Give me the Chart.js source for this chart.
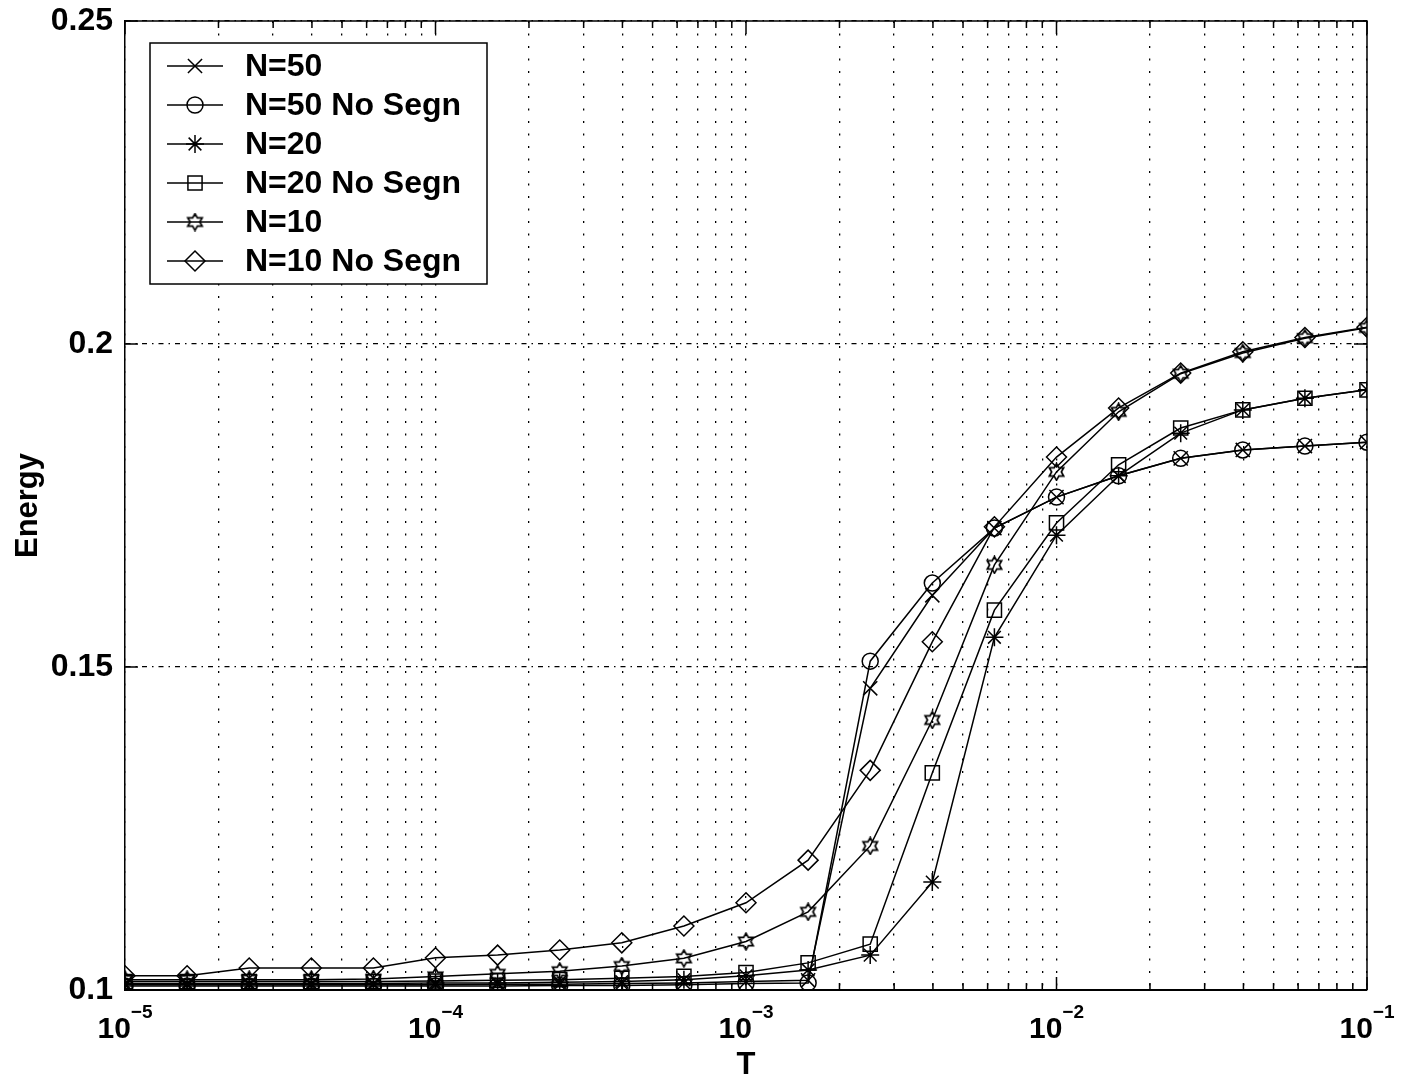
<!DOCTYPE html>
<html><head><meta charset="utf-8">
<script src="https://cdn.jsdelivr.net/npm/chart.js@4"></script>
<style>html,body{margin:0;padding:0;background:#fff}canvas{display:block}</style>
</head><body>
<canvas id="c" width="1403" height="1078"></canvas>
<script>
// ---- data ----
const T = [1.0e-5, 1.585e-5, 2.512e-5, 3.981e-5, 6.310e-5,
           1.0e-4, 1.585e-4, 2.512e-4, 3.981e-4, 6.310e-4,
           1.0e-3, 1.585e-3, 2.512e-3, 3.981e-3, 6.310e-3,
           1.0e-2, 1.585e-2, 2.512e-2, 3.981e-2, 6.310e-2, 1.0e-1];
const seriesLabels = ['N=50', 'N=50 No Segn', 'N=20', 'N=20 No Segn', 'N=10', 'N=10 No Segn'];
const n50       = [0.1008,0.1008,0.1008,0.1008,0.1008,0.1008,0.1009,0.1009,0.1010,0.1011,0.1013,0.1015,0.1467,0.1611,0.1715,0.1763,0.1796,0.1823,0.1836,0.1842,0.1848];
const n50NoSegn = [0.1006,0.1006,0.1006,0.1006,0.1006,0.1006,0.1006,0.1007,0.1007,0.1008,0.1010,0.1011,0.1509,0.1630,0.1715,0.1763,0.1796,0.1823,0.1836,0.1842,0.1848];
const n20       = [0.1010,0.1010,0.1010,0.1010,0.1010,0.1011,0.1011,0.1012,0.1013,0.1016,0.1022,0.1031,0.1054,0.1167,0.1546,0.1704,0.1796,0.1862,0.1898,0.1916,0.1929];
const n20NoSegn = [0.1013,0.1013,0.1013,0.1013,0.1013,0.1014,0.1015,0.1016,0.1018,0.1021,0.1027,0.1042,0.1071,0.1336,0.1588,0.1723,0.1813,0.1870,0.1898,0.1916,0.1929];
const n10       = [0.1016,0.1016,0.1016,0.1016,0.1017,0.1021,0.1025,0.1029,0.1037,0.1049,0.1075,0.1121,0.1223,0.1418,0.1658,0.1802,0.1895,0.1954,0.1986,0.2009,0.2025];
const n10NoSegn = [0.1022,0.1022,0.1034,0.1034,0.1034,0.1050,0.1054,0.1062,0.1073,0.1099,0.1135,0.1201,0.1340,0.1539,0.1717,0.1825,0.1901,0.1955,0.1988,0.2010,0.2026];
const xMajorTicks = [1e-5, 1e-4, 1e-3, 1e-2, 1e-1];
const xTickBase = '10';
const xTickExps = ['\u22125', '\u22124', '\u22123', '\u22122', '\u22121'];
const yTicks = [0.1, 0.15, 0.2, 0.25];
const xTitle = 'T';
const yTitle = 'Energy';

// ---- hexagram marker ----
function hexagram(size) {
  const c = document.createElement('canvas');
  c.width = size; c.height = size;
  const g = c.getContext('2d');
  const cx = size / 2, cy = size / 2, R = size / 2 - 1.2, r = R / Math.sqrt(3);
  g.strokeStyle = '#000'; g.lineWidth = 1.7;
  g.beginPath();
  for (let i = 0; i < 12; i++) {
    const a = -Math.PI / 2 + i * Math.PI / 6;
    const rr = i % 2 === 0 ? R : r;
    const px = cx + rr * Math.cos(a), py = cy + rr * Math.sin(a);
    if (i === 0) g.moveTo(px, py); else g.lineTo(px, py);
  }
  g.closePath(); g.stroke();
  return c;
}
const hexImg = hexagram(19);

const FONT = '"Liberation Sans", Arial, Helvetica, sans-serif';
Chart.defaults.color = '#000';
Chart.defaults.font.family = FONT;

const seriesData = [n50, n50NoSegn, n20, n20NoSegn, n10, n10NoSegn];
const styles = [
  {pointStyle: 'crossRot', radius: 10},
  {pointStyle: 'circle', radius: 8},
  {pointStyle: 'star', radius: 9},
  {pointStyle: 'rect', radius: 10},
  {pointStyle: hexImg, radius: 9},
  {pointStyle: 'rectRot', radius: 10}
];

const datasets = seriesData.map((arr, i) => ({
  label: seriesLabels[i],
  data: T.map((t, j) => ({x: t, y: arr[j]})),
  borderColor: '#000',
  borderWidth: 1.5,
  pointStyle: styles[i].pointStyle,
  pointRadius: styles[i].radius,
  pointBorderColor: '#000',
  pointBackgroundColor: 'rgba(0,0,0,0)',
  pointBorderWidth: 1.5,
  tension: 0,
  fill: false
}));

const framePlugin = {
  id: 'frame',
  afterDraw(chart) {
    const ctx = chart.ctx;
    const a = chart.chartArea;
    const xs = chart.scales.x, ys = chart.scales.y;
    ctx.save();
    ctx.strokeStyle = '#000';
    ctx.lineWidth = 1.5;
    ctx.setLineDash([]);
    // top/right border
    ctx.beginPath();
    ctx.moveTo(a.left, a.top); ctx.lineTo(a.right, a.top); ctx.lineTo(a.right, a.bottom);
    ctx.stroke();
    // x ticks inside (top & bottom)
    ctx.beginPath();
    xs.ticks.forEach(t => {
      const px = xs.getPixelForValue(t.value);
      const major = xMajorTicks.some(m => Math.abs(Math.log10(m) - Math.log10(t.value)) < 1e-6);
      const L = major ? 13 : 7;
      ctx.moveTo(px, a.bottom); ctx.lineTo(px, a.bottom - L);
      ctx.moveTo(px, a.top); ctx.lineTo(px, a.top + L);
    });
    // y ticks inside (left & right)
    yTicks.forEach(v => {
      const py = ys.getPixelForValue(v);
      ctx.moveTo(a.left, py); ctx.lineTo(a.left + 13, py);
      ctx.moveTo(a.right, py); ctx.lineTo(a.right - 13, py);
    });
    ctx.stroke();
    // x tick labels with superscripts
    ctx.fillStyle = '#000';
    ctx.textBaseline = 'alphabetic';
    ctx.textAlign = 'left';
    xMajorTicks.forEach((m, i) => {
      const px = xs.getPixelForValue(m);
      ctx.font = 'bold 30px ' + FONT;
      const w1 = ctx.measureText(xTickBase).width;
      ctx.font = 'bold 19px ' + FONT;
      const w2 = ctx.measureText(xTickExps[i]).width;
      const x0 = px - (w1 + w2) / 2;
      ctx.font = 'bold 30px ' + FONT;
      ctx.fillText(xTickBase, x0, a.bottom + 48);
      ctx.font = 'bold 19px ' + FONT;
      ctx.fillText(xTickExps[i], x0 + w1, a.bottom + 28);
    });
    // legend
    const bx = 150, by = 43, bw = 337, bh = 241;
    ctx.fillStyle = '#fff';
    ctx.fillRect(bx, by, bw, bh);
    ctx.lineWidth = 1.5;
    ctx.strokeRect(bx, by, bw, bh);
    chart.data.datasets.forEach((ds, i) => {
      const cy = 66 + i * 39;
      ctx.lineWidth = 1.5;
      ctx.strokeStyle = '#000';
      ctx.beginPath(); ctx.moveTo(167, cy); ctx.lineTo(223, cy); ctx.stroke();
      ctx.fillStyle = 'rgba(0,0,0,0)';
      Chart.helpers.drawPoint(ctx, {pointStyle: ds.pointStyle, radius: ds.pointRadius, borderWidth: 1.5, rotation: 0}, 195, cy);
      ctx.fillStyle = '#000';
      ctx.font = 'bold 32px ' + FONT;
      ctx.textBaseline = 'middle';
      ctx.fillText(ds.label, 245, cy + 1);
    });
    ctx.restore();
  }
};

new Chart(document.getElementById('c'), {
  type: 'line',
  data: {datasets},
  options: {
    responsive: false,
    animation: false,
    events: [],
    layout: {padding: {top: 21, right: 36, left: 0, bottom: 0}},
    plugins: {legend: {display: false}, tooltip: {enabled: false}},
    scales: {
      x: {
        type: 'logarithmic',
        min: 1e-5, max: 1e-1,
        afterBuildTicks: (s) => {
          const t = [];
          for (let e = -5; e <= -2; e++) for (let m = 1; m <= 9; m++) t.push({value: m * Math.pow(10, e)});
          t.push({value: 1e-1});
          s.ticks = t;
        },
        afterFit: (s) => { s.height = 88; s.paddingLeft = 0; s.paddingRight = 0; },
        ticks: {autoSkip: false, maxRotation: 0, callback: () => '', font: {size: 30, weight: 'bold'}},
        grid: {color: '#000', lineWidth: 1.3, drawTicks: false},
        border: {display: true, color: '#000', width: 2, dash: [2, 10.5]},
        title: {display: true, text: xTitle, font: {size: 31, weight: 'bold', lineHeight: 0.8}, padding: {top: 0, bottom: 0}}
      },
      y: {
        type: 'linear',
        min: 0.1, max: 0.25,
        afterBuildTicks: (s) => { s.ticks = yTicks.map(v => ({value: v})); },
        afterFit: (s) => { s.width = 125; s.paddingTop = 0; s.paddingBottom = 0; },
        ticks: {padding: 12, callback: (v) => String(Math.round(v * 100) / 100), font: {size: 32, weight: 'bold'}},
        grid: {color: '#000', lineWidth: 1.3, drawTicks: false},
        border: {display: true, color: '#000', width: 1.5, dash: [5, 5, 1.5, 5]},
        title: {display: true, text: yTitle, font: {size: 31, weight: 'bold'}, padding: {top: 10, bottom: 0}}
      }
    }
  },
  plugins: [framePlugin]
});
</script>
</body></html>
